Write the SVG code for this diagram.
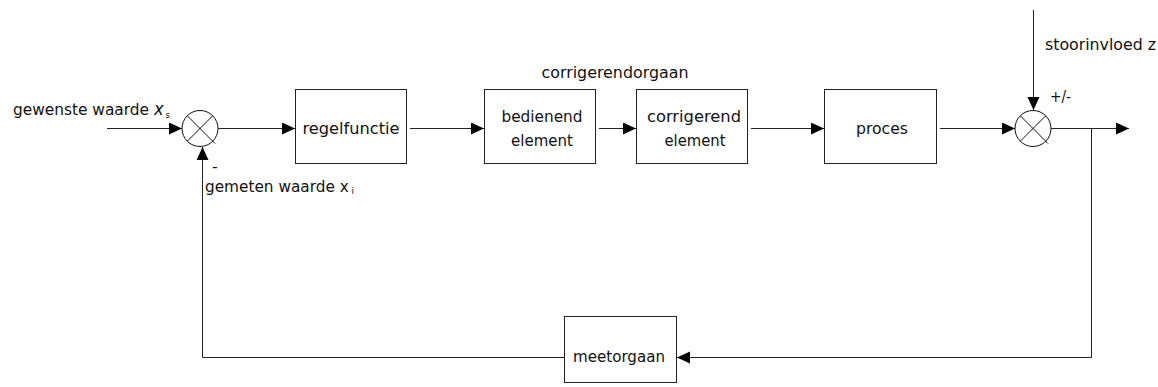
<svg xmlns="http://www.w3.org/2000/svg" width="1158" height="387" viewBox="0 0 1158 387">
  <style>
    .box { fill: #ffffff; stroke: #222222; stroke-width: 1; }
    .sum { fill: #ffffff; stroke: #111111; stroke-width: 1; }
    .cross { stroke: #111111; stroke-width: 1; }
    .wire { fill: none; stroke: #222222; stroke-width: 1; }
    .lbl { font-family: "DejaVu Sans", "Liberation Sans", sans-serif; font-size: 16px; fill: #111111; }
    .mid { text-anchor: middle; }
    .sub { font-size: 9px; }
  </style>
  <defs>
    <marker id="arrow" markerUnits="userSpaceOnUse" markerWidth="14" markerHeight="13" refX="13" refY="6" orient="auto">
      <path d="M0,0 L13,6 L0,12 z" fill="#000000"/>
    </marker>
  </defs>

  <!-- connectors -->
  <g id="connectors">
    <path class="wire" d="M107,128.5 H182" marker-end="url(#arrow)"/>
    <path class="wire" d="M218,128.5 H295" marker-end="url(#arrow)"/>
    <path class="wire" d="M410,128.5 H484" marker-end="url(#arrow)"/>
    <path class="wire" d="M599,128.5 H636" marker-end="url(#arrow)"/>
    <path class="wire" d="M751,128.5 H824" marker-end="url(#arrow)"/>
    <path class="wire" d="M940,128.5 H1015" marker-end="url(#arrow)"/>
    <path class="wire" d="M1033.5,10 V110" marker-end="url(#arrow)"/>
    <path class="wire" d="M1051,128.5 H1129" marker-end="url(#arrow)"/>
    <path class="wire" d="M1091.5,128.5 V357.5 H677" marker-end="url(#arrow)"/>
    <path class="wire" d="M564,357.5 H202.5 V147" marker-end="url(#arrow)"/>
  </g>

  <!-- summing point: setpoint minus measurement -->
  <g id="sum-setpoint">
    <circle class="sum" cx="200" cy="128.5" r="18"/>
    <line class="cross" x1="187.3" y1="115.8" x2="215" y2="143.5"/>
    <line class="cross" x1="212.7" y1="115.8" x2="187.3" y2="141.2"/>
    <text class="lbl" x="212" y="172">-</text>
  </g>

  <!-- summing point: disturbance -->
  <g id="sum-disturbance">
    <circle class="sum" cx="1033" cy="128.5" r="18"/>
    <line class="cross" x1="1020.3" y1="115.8" x2="1048" y2="143.5"/>
    <line class="cross" x1="1045.7" y1="115.8" x2="1020.3" y2="141.2"/>
    <text class="lbl" x="1050" y="102" textLength="21" lengthAdjust="spacingAndGlyphs">+/-</text>
  </g>

  <g id="regelfunctie">
    <rect class="box" x="295.5" y="89.5" width="111" height="74"/>
    <text class="lbl mid" x="351" y="134" textLength="97" lengthAdjust="spacingAndGlyphs">regelfunctie</text>
  </g>

  <g id="bedienend-element">
    <rect class="box" x="484.5" y="89.5" width="111" height="74"/>
    <text class="lbl mid" x="542" y="122" textLength="81" lengthAdjust="spacingAndGlyphs">bedienend</text>
    <text class="lbl mid" x="542" y="146" textLength="62" lengthAdjust="spacingAndGlyphs">element</text>
  </g>

  <g id="corrigerend-element">
    <rect class="box" x="636.5" y="89.5" width="111" height="74"/>
    <text class="lbl mid" x="694" y="122" textLength="94" lengthAdjust="spacingAndGlyphs">corrigerend</text>
    <text class="lbl mid" x="695" y="146" textLength="61" lengthAdjust="spacingAndGlyphs">element</text>
  </g>

  <g id="corrigerendorgaan">
    <text class="lbl mid" x="615" y="78" textLength="147" lengthAdjust="spacingAndGlyphs">corrigerendorgaan</text>
  </g>

  <g id="proces">
    <rect class="box" x="824.5" y="89.5" width="112" height="74"/>
    <text class="lbl mid" x="882" y="134" textLength="52" lengthAdjust="spacingAndGlyphs">proces</text>
  </g>

  <g id="meetorgaan">
    <rect class="box" x="564.5" y="316.5" width="112" height="66"/>
    <text class="lbl mid" x="619" y="362" textLength="92" lengthAdjust="spacingAndGlyphs">meetorgaan</text>
  </g>

  <g id="setpoint-label">
    <text class="lbl" x="13" y="115" textLength="157" lengthAdjust="spacingAndGlyphs">gewenste waarde <tspan font-style="italic" font-size="17">x</tspan><tspan class="sub" dx="2" dy="3">s</tspan></text>
  </g>

  <g id="measured-label">
    <text class="lbl" x="205" y="191.5" textLength="149" lengthAdjust="spacingAndGlyphs">gemeten waarde x<tspan class="sub" dx="3" dy="2.5">i</tspan></text>
  </g>

  <g id="disturbance-label">
    <text class="lbl" x="1045" y="49.5" textLength="111" lengthAdjust="spacingAndGlyphs">stoorinvloed z</text>
  </g>
</svg>
